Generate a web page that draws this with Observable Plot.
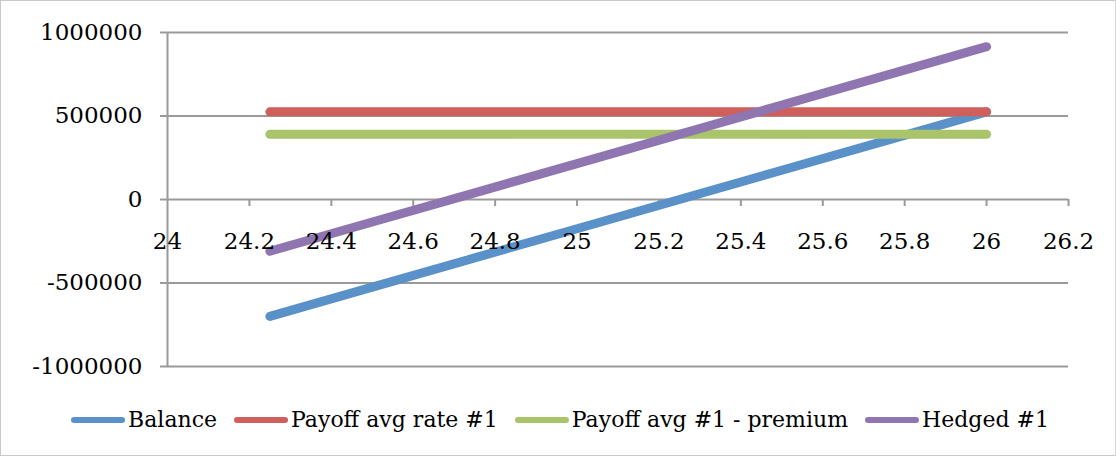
<!DOCTYPE html>
<html>
<head>
<meta charset="utf-8">
<script src="https://cdn.jsdelivr.net/npm/d3@7"></script>
<script src="https://cdn.jsdelivr.net/npm/@observablehq/plot@0.6"></script>
<style>
  html, body { margin: 0; padding: 0; background: #fff; }
  #frame { position: absolute; left: 0; top: 0; width: 1114px; height: 454px; border: 1px solid #c8c8c8; border-right-color:#d9d9d9; box-sizing: content-box; }
  #chart { position: absolute; left: 0; top: 0; }
  #legend { position: absolute; left: 0; top: 407px; width: 1120px; display: flex; justify-content: center; gap: 17px;
    font-family: "DejaVu Serif", "Liberation Serif", serif; font-size: 22px; color: #000; }
  .item { display: flex; align-items: center; }
  .sw { width: 54px; height: 6px; border-radius: 3px; margin-right: 3px; }
</style>
</head>
<body>
<div id="frame"></div>
<div id="chart"></div>
<div id="legend"></div>
<script>
const xValues = [24.25, 24.5, 24.75, 25, 25.25, 25.5, 25.75, 26];
const balance = [-700000, -525000, -350000, -175000, 0, 175000, 350000, 525000];
const payoffAvgRate = [525000, 525000, 525000, 525000, 525000, 525000, 525000, 525000];
const payoffMinusPremium = [390000, 390000, 390000, 390000, 390000, 390000, 390000, 390000];
const hedged = [-310000, -135000, 40000, 215000, 390000, 565000, 740000, 915000];

const seriesNames = ["Balance", "Payoff avg rate #1", "Payoff avg #1 - premium", "Hedged #1"];
const seriesColors = ["#5A91C9", "#CE5F5A", "#A9C46A", "#8F76B0"];
const seriesValues = [balance, payoffAvgRate, payoffMinusPremium, hedged];

const xTicks = [24, 24.2, 24.4, 24.6, 24.8, 25, 25.2, 25.4, 25.6, 25.8, 26, 26.2];
const yTicks = [-1000000, -500000, 0, 500000, 1000000];

const data = [];
seriesValues.forEach((vals, si) => vals.forEach((v, i) => data.push({series: seriesNames[si], x: xValues[i], y: v})));

const gray = "#9a9a9a";
const font = "DejaVu Serif, Liberation Serif, serif";

const plot = Plot.plot({
  width: 1120,
  height: 392,
  marginTop: 32,
  marginBottom: 26,
  marginLeft: 167,
  marginRight: 52,
  style: { fontFamily: font, fontSize: "23px", color: "#000", background: "transparent", overflow: "visible" },
  x: { domain: [24, 26.2], axis: null },
  y: { domain: [-1000000, 1000000] },
  color: { domain: seriesNames, range: seriesColors },
  marks: [
    Plot.ruleY(yTicks, { stroke: gray, strokeWidth: 2, strokeOpacity: 1 }),
    Plot.ruleX([24], { stroke: gray, strokeWidth: 2, y1: -1000000, y2: 1000000 }),
    Plot.ruleX(xTicks.slice(1), { x: d => d, y1: 0, y2: -42000, stroke: gray, strokeWidth: 2 }),
    Plot.axisY({ ticks: yTicks, tickFormat: d => String(d), label: null, tickSize: 7, tickPadding: 18, stroke: gray, strokeWidth: 2, fontSize: 23, fontFamily: font, fill: "#000" }),
    Plot.line(data, { x: "x", y: "y", z: "series", stroke: "series", strokeWidth: 9, strokeLinecap: "round", strokeLinejoin: "round" }),
    Plot.text(xTicks, { x: d => d, y: 0, dy: 42, text: d => String(d), fontSize: 23, fontFamily: font, fill: "#000" })
  ]
});
document.getElementById("chart").appendChild(plot);

const legend = document.getElementById("legend");
seriesNames.forEach((name, i) => {
  const item = document.createElement("div");
  item.className = "item";
  const sw = document.createElement("div");
  sw.className = "sw";
  sw.style.background = seriesColors[i];
  const label = document.createElement("span");
  label.textContent = name;
  item.appendChild(sw);
  item.appendChild(label);
  legend.appendChild(item);
});
</script>
</body>
</html>
